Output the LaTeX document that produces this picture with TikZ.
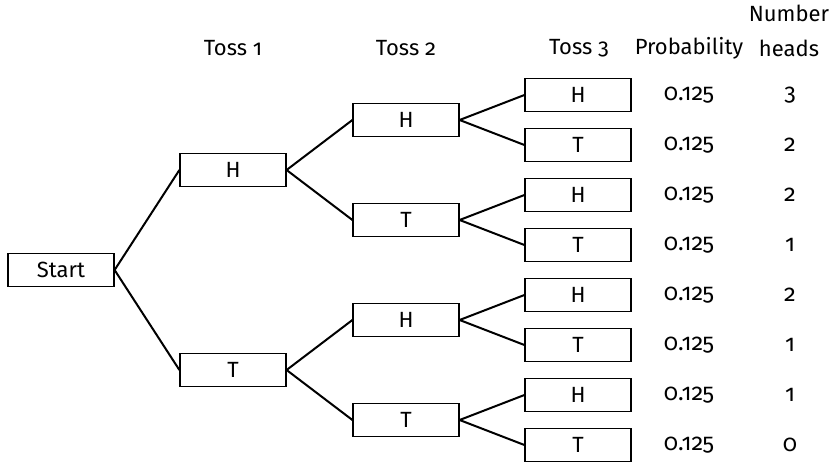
\documentclass[tikz,border=0pt]{standalone}
\usepackage{fontspec}
\setmainfont[Numbers=OldStyle]{Fira Sans}
\begin{document}
\begin{tikzpicture}[x=1pt,y=-1pt,
  box/.style={draw,line width=1.2pt,minimum width=106pt,minimum height=33pt,inner sep=0pt,font=\fontsize{22}{26}\selectfont},
  lbl/.style={font=\fontsize{22}{26}\selectfont,inner sep=0pt},
  num/.style={font=\fontsize{23.5}{26}\selectfont,inner sep=0pt},
  conn/.style={line width=2pt}]
\useasboundingbox (0,0) rectangle (837,462);
% headers
\node[lbl] (h1) at (233,48) {Toss 1};
\node[lbl] (h2) at (406,48) {Toss 2};
\node[lbl] (h3) at (579,48) {Toss 3};
\node[lbl] (hp) at (689,48) {Probability};
\node[lbl] (hn1) at (789,13) {Number};
\node[lbl] (hn2) at (789,48) {heads};
% tree
\node[box] (s) at (61,270) {Start};
\node[box] (a) at (233,170) {H};
\node[box] (b) at (233,370) {T};
\node[box] (aa) at (406,120) {H};
\node[box] (ab) at (406,220) {T};
\node[box] (ba) at (406,320) {H};
\node[box] (bb) at (406,420) {T};
\foreach \n/\y/\t in {1/95/H,2/145/T,3/195/H,4/245/T,5/295/H,6/345/T,7/395/H,8/445/T}{
  \node[box] (c\n) at (578,\y) {\t};
  \node[num] (p\n) at (689,\y) {0.125};
}
\foreach \n/\y/\k in {1/95/3,2/145/2,3/195/2,4/245/1,5/295/2,6/345/1,7/395/1,8/445/0}{
  \node[num] (k\n) at (790,\y) {\k};
}
\draw[conn] (s.east) -- (a.west);
\draw[conn] (s.east) -- (b.west);
\draw[conn] (a.east) -- (aa.west);
\draw[conn] (a.east) -- (ab.west);
\draw[conn] (b.east) -- (ba.west);
\draw[conn] (b.east) -- (bb.west);
\draw[conn] (aa.east) -- (c1.west);
\draw[conn] (aa.east) -- (c2.west);
\draw[conn] (ab.east) -- (c3.west);
\draw[conn] (ab.east) -- (c4.west);
\draw[conn] (ba.east) -- (c5.west);
\draw[conn] (ba.east) -- (c6.west);
\draw[conn] (bb.east) -- (c7.west);
\draw[conn] (bb.east) -- (c8.west);
\end{tikzpicture}
\end{document}
